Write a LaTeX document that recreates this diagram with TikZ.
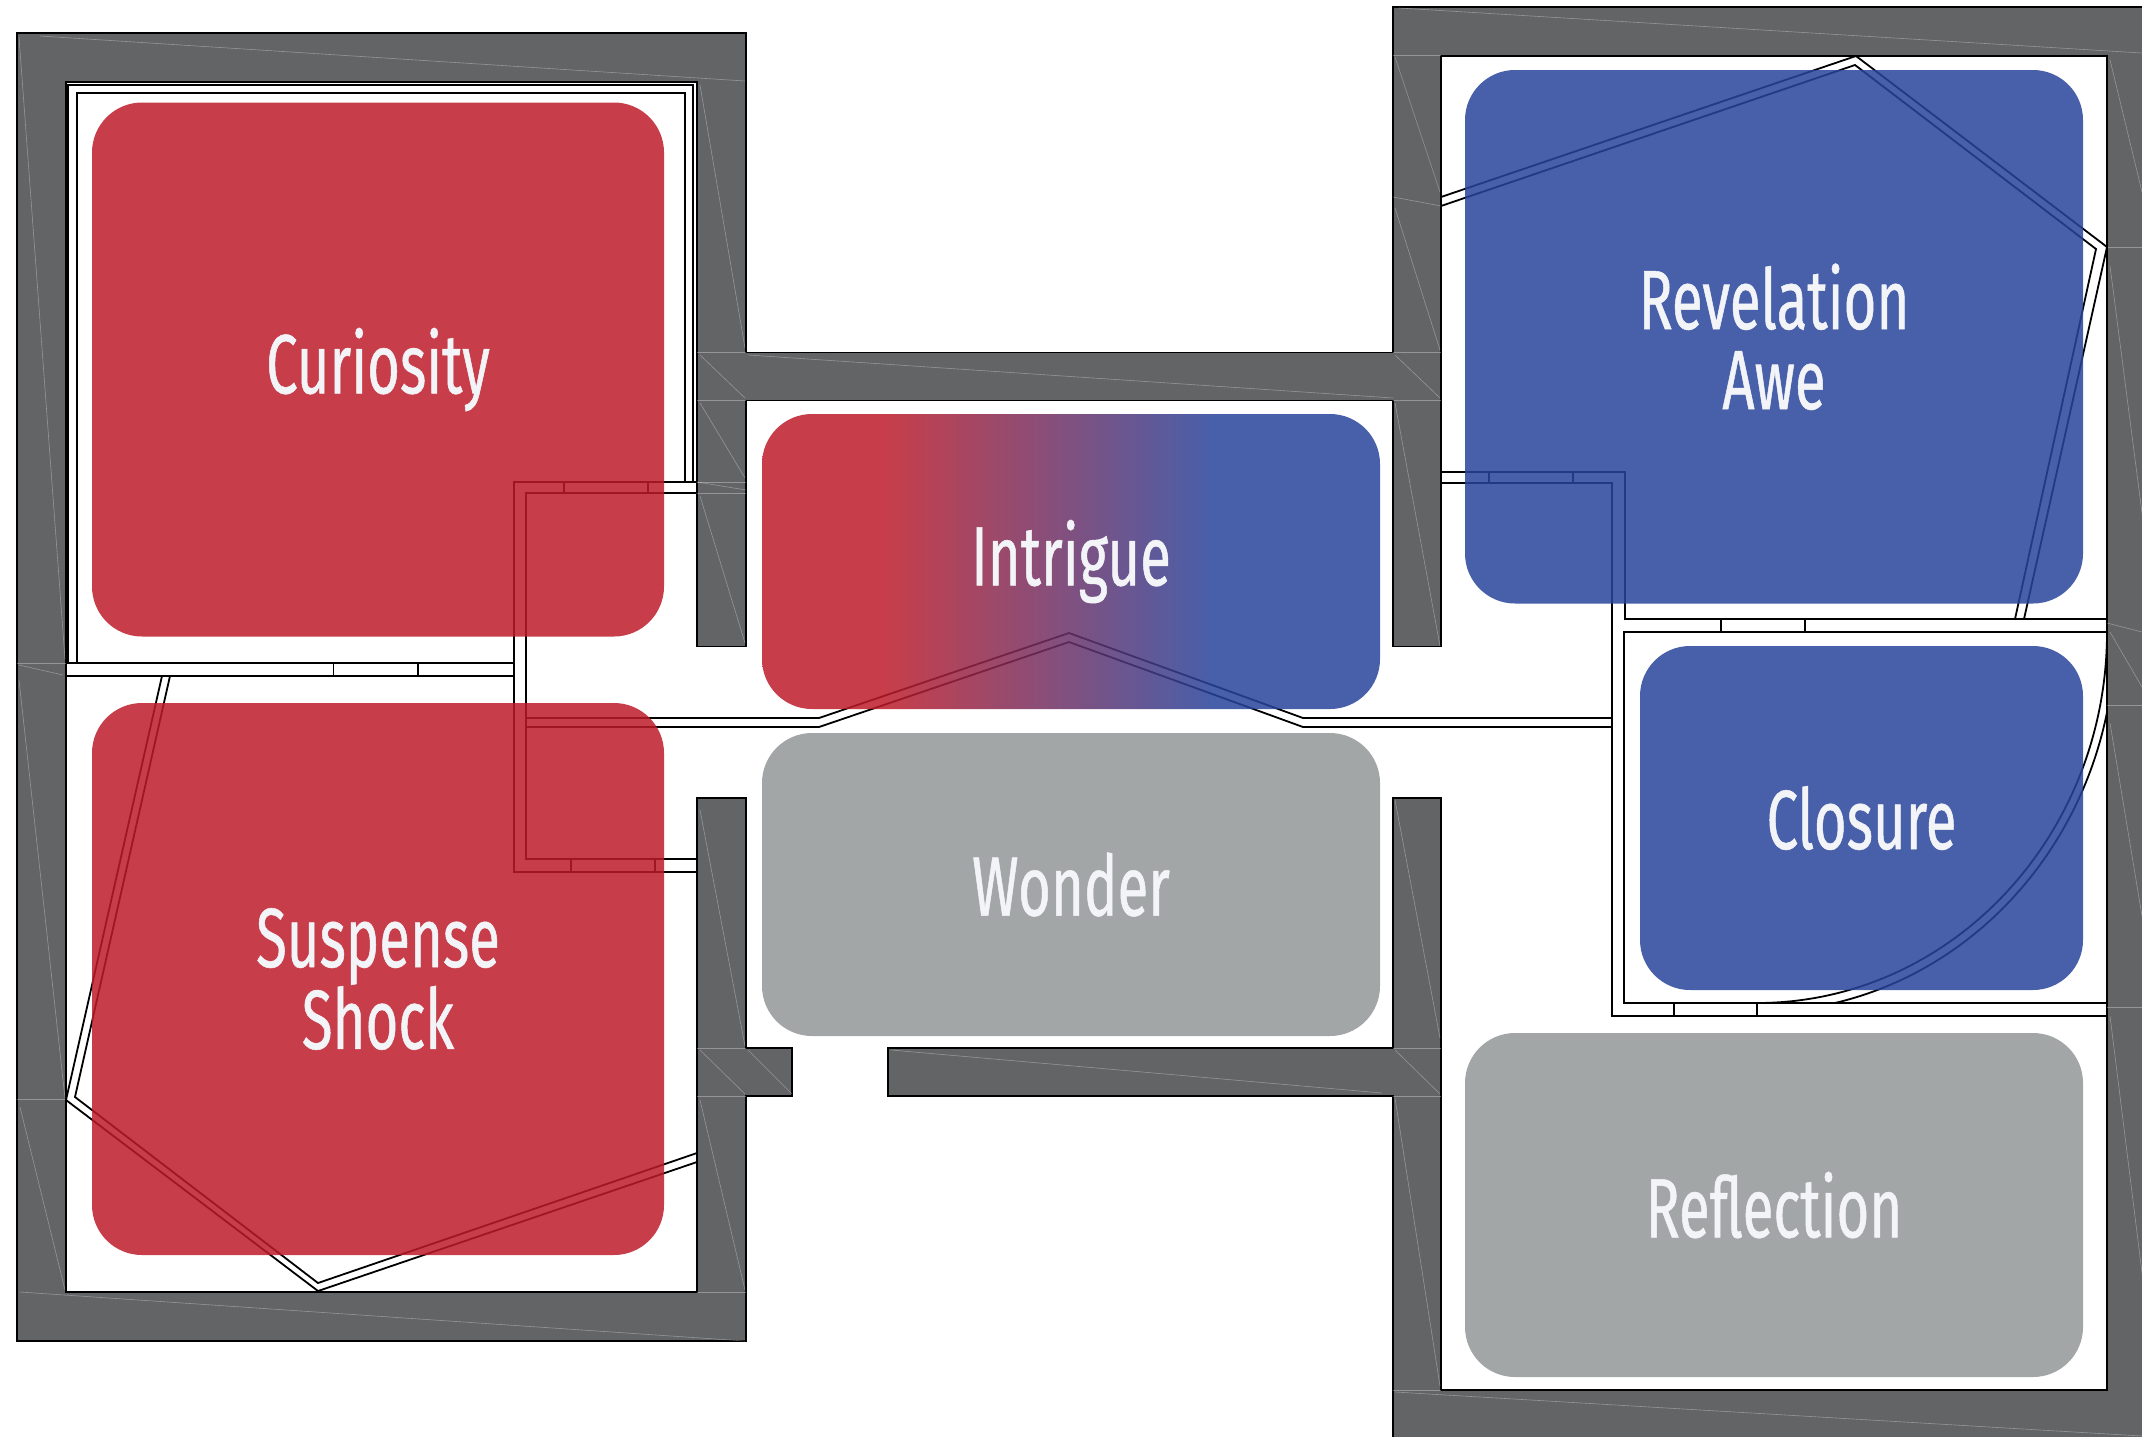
\documentclass[tikz,border=0pt]{standalone}
\usepackage{fontspec}
\setmainfont[FakeStretch=0.67, FakeBold=0.6]{Fira Sans}
\definecolor{wallgray}{HTML}{636466}
\definecolor{curred}{RGB}{189,28,42}
\definecolor{revblue}{RGB}{40,67,155}
\definecolor{softgray}{HTML}{A3A6A7}
\definecolor{labelwhite}{HTML}{F3F4F7}
\pgfdeclarehorizontalshading{intrigueshade}{100bp}{color(0bp)=(curred); color(35bp)=(curred); color(61.5bp)=(revblue); color(100bp)=(revblue)}

\begin{document}
\begin{tikzpicture}[x=1pt,y=-1pt,
    room/.style={rounded corners=50pt, inner sep=0pt, align=center, text=labelwhite,
      font=\fontsize{84}{80}\selectfont, fill opacity=0.85, text opacity=1},
    plan/.style={line width=1.8pt},
    seam/.style={white, opacity=0.32, line width=0.6pt}]
  \useasboundingbox (0,0) rectangle (2142,1436);
  \clip (0,0) rectangle (2142,1436);

  % walls
  \draw[fill=wallgray, line width=1.6pt] (17,33) -- (746,33) -- (746,352.6) -- (1393,352.6)
    -- (1393,7) -- (2160,7) -- (2160,1460) -- (1393,1460) -- (1393,1096) -- (888,1096)
    -- (888,1048) -- (1393,1048) -- (1393,798) -- (1441,798) -- (1441,1390) -- (2107,1390)
    -- (2107,56) -- (1441,56) -- (1441,646.5) -- (1393,646.5) -- (1393,400.6) -- (746,400.6)
    -- (746,646.5) -- (697,646.5) -- (697,82) -- (66,82) -- (66,1292) -- (697,1292)
    -- (697,798) -- (746,798) -- (746,1048) -- (792,1048) -- (792,1096) -- (746,1096)
    -- (746,1341) -- (17,1341) -- cycle;
  \foreach \xa/\ya/\xb/\yb in {40/36/745/81, 700/85/745/348, 697/352.6/746/352.6,
      697/400.6/746/400.6, 700/355/745/398, 700/403/745/478, 697/482/746/482,
      697/482/746/490, 697/493/746/493, 700/496/745/643, 19/37/65/659, 17/663/66/663,
      19/665/63/675, 19/680/65/1098, 17/1099/66/1099, 20/1107/65/1290, 20/1292/745/1341,
      700/810/745/1046, 697/1048/746/1048, 697/1096/746/1096, 700/1050/745/1094,
      748/1050/792/1094, 700/1100/745/1290, 697/1292/746/1292, 748/355/1393/398,
      891/1050/1382/1093, 1399/8/2142/53, 1393/55/1441/55, 1395/57/1440/192,
      1393/197/1441/206, 1395/208/1440/350, 1393/352.6/1441/352.6, 1393/400.6/1441/400.6,
      1395/355/1440/398, 1395/403/1440/646, 1395/800/1440/1038, 1393/1048/1441/1048,
      1393/1096/1441/1096, 1395/1050/1440/1094, 1395/1098/1440/1386, 1393/1390/1441/1390,
      1395/1392/2142/1436, 2110/60/2142/192, 2107/247/2142/247, 2110/266/2142/513,
      2107/623/2142/632, 2110/632/2142/687, 2107/705/2142/705, 2110/723/2142/916,
      2107/1007/2142/1007, 2110/1016/2142/1273}
    \draw[seam] (\xa,\ya) -- (\xb,\yb);

  % partitions, left
  \draw[plan] (68,663) -- (68,84.7) -- (693,84.7) -- (693,482);
  \draw[plan] (77,663) -- (77,93) -- (685,93) -- (685,482);
  \draw[plan] (697,482) -- (514,482) -- (514,872) -- (697,872);
  \draw[plan] (697,493) -- (526,493) -- (526,859) -- (697,859);
  \draw[plan] (66,663) -- (514,663) (66,676) -- (514,676);
  \draw[plan] (162,676) -- (66,1100) -- (318,1291) -- (697,1162);
  \draw[plan] (170,676) -- (75,1097) -- (318,1283) -- (697,1153);
  % corridor
  \draw[plan] (526,718) -- (819,718) -- (1069,633) -- (1303,718) -- (1612,718);
  \draw[plan] (526,727) -- (819,727) -- (1069,642) -- (1303,727) -- (1612,727);
  % partitions, right
  \draw[plan] (1441,471.6) -- (1625,471.6) -- (1625,619) -- (2107,619);
  \draw[plan] (1441,483) -- (1612,483) -- (1612,1016) -- (2107,1016);
  \draw[plan] (2107,632) -- (1624,632) -- (1624,1003) -- (2107,1003);
  \draw[plan] (1441,197) -- (1856,56) -- (2107,247) -- (2024,619);
  \draw[plan] (1441,206) -- (1855,65) -- (2096,249) -- (2015,619);
  \begin{scope}
    \clip (1624,632) rectangle (2107,1003);
    \draw[plan] (2107,632) arc[start angle=0, end angle=90, x radius=350, y radius=371];
    \draw[plan] (2115,632) arc[start angle=0, end angle=90, x radius=358, y radius=380];
  \end{scope}
  % doors
  \foreach \x/\ya/\yb in {333.5/663/676, 418/663/676, 564/482/493, 648/482/493,
      571/859/872, 655/859/872, 1489/471.6/483, 1573/471.6/483, 1721/619/632,
      1805/619/632, 1674/1003/1016, 1757/1003/1016}
    \draw[plan] (\x,\ya) -- (\x,\yb);

  % rooms
  \node[room, fill=curred, minimum width=572pt, minimum height=534pt] (curiosity) at (378,369.5) {Curiosity};
  \node[room, fill=curred, minimum width=572pt, minimum height=552pt] (suspense) at (378,979) {Suspense\\Shock};
  \node[room, shade, shading=intrigueshade, minimum width=618pt, minimum height=295pt] (intrigue) at (1071,561.5) {Intrigue};
  \node[room, fill=softgray, fill opacity=1, minimum width=618pt, minimum height=303pt] (wonder) at (1071,884.5) {Wonder};
  \node[room, fill=revblue, minimum width=618pt, minimum height=533.5pt] (revelation) at (1774,336.75) {Revelation\\Awe};
  \node[room, fill=revblue, minimum width=443pt, minimum height=344pt] (closure) at (1861.5,818) {Closure};
  \node[room, fill=softgray, fill opacity=1, minimum width=618pt, minimum height=344pt] (reflection) at (1774,1205) {Reflection};
\end{tikzpicture}
\end{document}
